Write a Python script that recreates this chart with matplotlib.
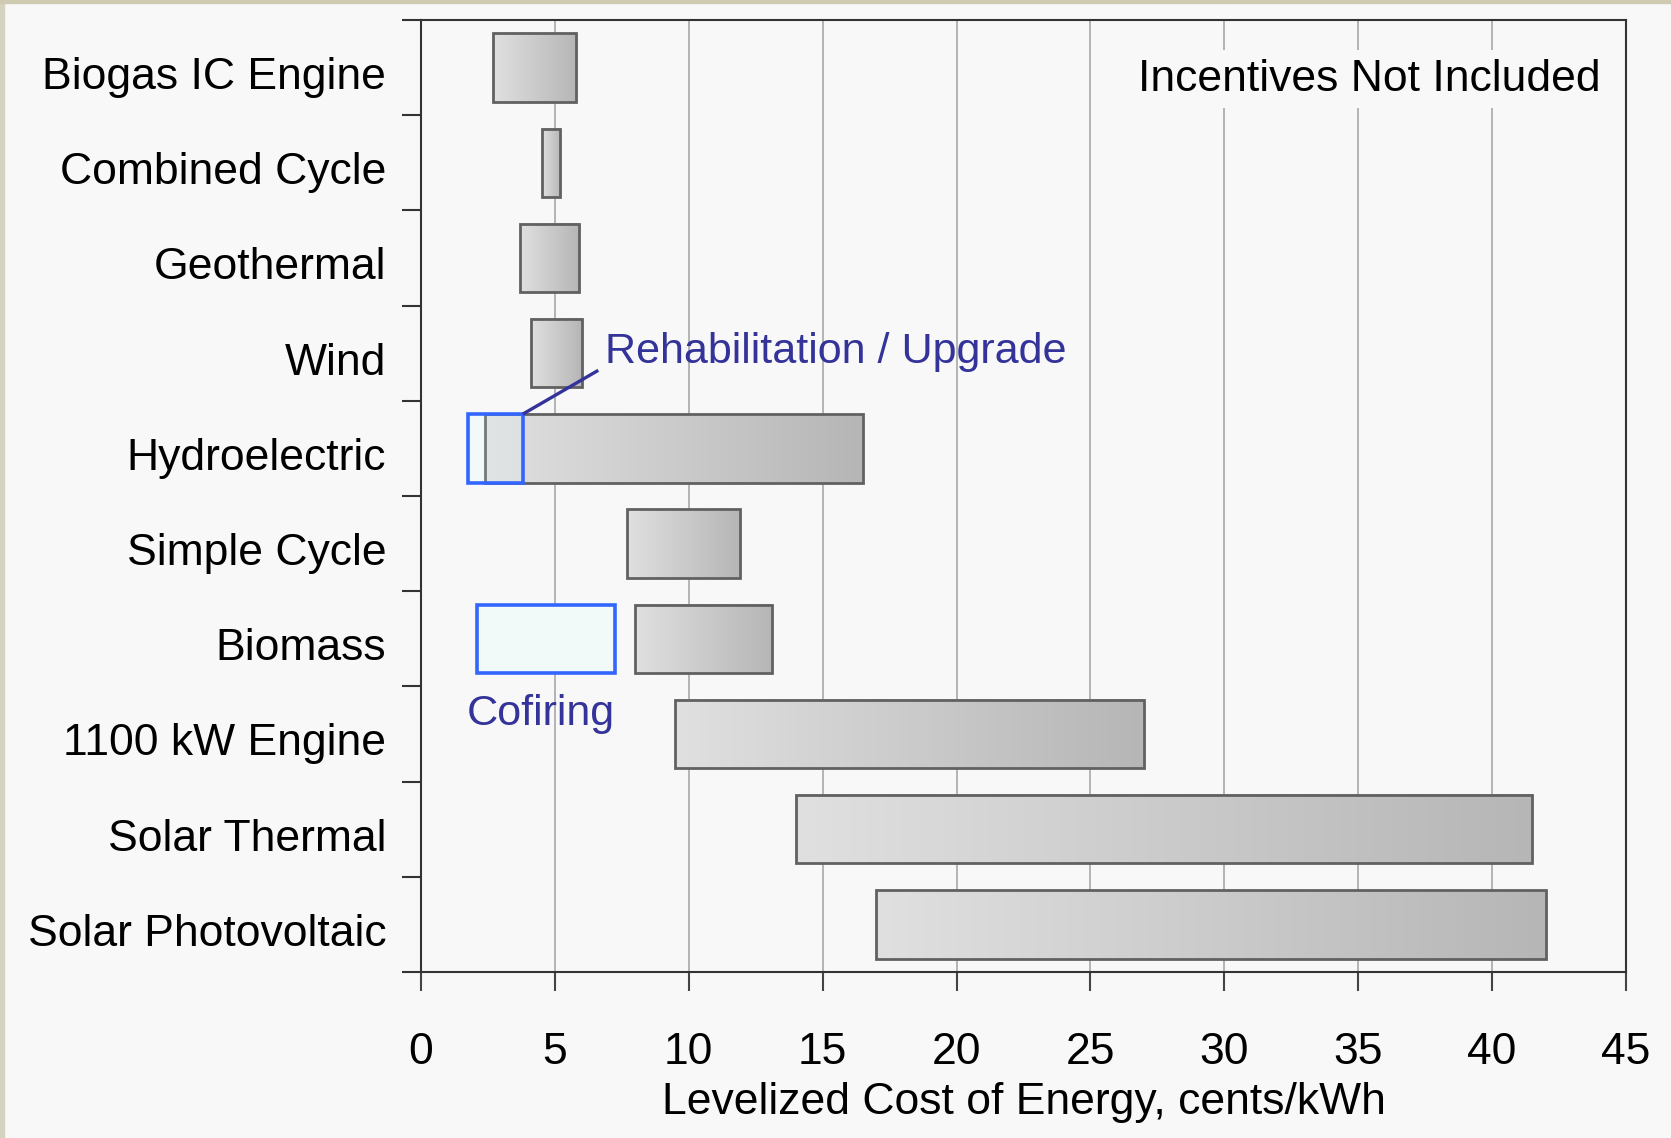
import numpy as np
import matplotlib
matplotlib.use("Agg")
import matplotlib.pyplot as plt
from matplotlib.colors import LinearSegmentedColormap
from matplotlib.patches import Rectangle
from matplotlib.transforms import ScaledTranslation

plt.rcParams['font.family'] = ['Liberation Sans', 'DejaVu Sans']

# levelized cost ranges, cents/kWh
techs = ["Biogas IC Engine", "Combined Cycle", "Geothermal", "Wind", "Hydroelectric",
         "Simple Cycle", "Biomass", "1100 kW Engine", "Solar Thermal", "Solar Photovoltaic"]
cost_low = [2.7, 4.5, 3.7, 4.1, 2.4, 7.7, 8.0, 9.5, 14.0, 17.0]
cost_high = [5.8, 5.2, 5.9, 6.0, 16.5, 11.9, 13.1, 27.0, 41.5, 42.0]

# highlighted sub-ranges (blue boxes)
special_techs = ["Hydroelectric", "Biomass"]
special_low = [1.75, 2.1]
special_high = [3.8, 7.25]
special_notes = ["Rehabilitation / Upgrade", "Cofiring"]

xticks = [0, 5, 10, 15, 20, 25, 30, 35, 40, 45]

BG = "#f8f8f8"
BLUE_TXT = "#333399"
BLUE_BOX = "#3366ff"
FS = 32

fig = plt.figure(figsize=(16.71, 11.38), dpi=100, facecolor=BG)
ax = fig.add_axes([421 / 1671, 1 - 972 / 1138, 1205 / 1671, 952 / 1138])
ax.set_facecolor(BG)

# tan slide border
fig.add_artist(Rectangle((0, 0), 4 / 1671, 1, transform=fig.transFigure,
                         color="#d5d3bf", zorder=-5))
fig.add_artist(Rectangle((0, 1 - 3 / 1138), 1, 3 / 1138, transform=fig.transFigure,
                         color="#cfcbb3", zorder=-5))

ypos = np.arange(len(techs))
h = 0.72
cmap = LinearSegmentedColormap.from_list("g", ["#e0e0e0", "#b6b6b6"])
grad = np.linspace(0, 1, 256).reshape(1, -1)

# blue boxes behind (light fill)
for t, lo, hi in zip(special_techs, special_low, special_high):
    y = techs.index(t)
    ax.barh(y, hi - lo, left=lo, height=h, color="#f3f9f9", edgecolor="none", zorder=2)

for y, lo, hi in zip(ypos, cost_low, cost_high):
    ax.imshow(grad, cmap=cmap, aspect="auto", extent=[lo, hi, y + h / 2, y - h / 2],
              zorder=3, interpolation="bilinear")
ax.barh(ypos, np.array(cost_high) - np.array(cost_low), left=cost_low, height=h,
        color="none", edgecolor="#616161", linewidth=2.0, zorder=4)

# blue box outlines on top, with a faint tint
for t, lo, hi in zip(special_techs, special_low, special_high):
    y = techs.index(t)
    ax.barh(y, hi - lo, left=lo, height=h, color=(0.9, 1.0, 1.0, 0.15),
            edgecolor=BLUE_BOX, linewidth=2.6, zorder=5)

# annotations
hy = techs.index("Hydroelectric")
ax.plot([special_high[0], 6.62], [hy - h / 2, 3.18], color=BLUE_TXT, lw=2.4, zorder=6,
        solid_capstyle="butt")
ax.text(6.86, 2.985, special_notes[0], color=BLUE_TXT, fontsize=FS * 0.97,
        ha="left", va="center", zorder=6)
ax.text(4.46, 6.785, special_notes[1], color=BLUE_TXT, fontsize=FS * 0.97,
        ha="center", va="center", zorder=6)

ax.text(0.979, 0.938, "Incentives Not Included", transform=ax.transAxes, fontsize=FS,
        ha="right", va="center", zorder=6,
        bbox=dict(facecolor=BG, edgecolor="none", pad=6))

ax.set_xlim(0, 45)
ax.set_ylim(len(techs) - 0.5, -0.5)
ax.set_xticks(xticks)
ax.set_xticklabels([str(v) for v in xticks], fontsize=FS)
ax.xaxis.grid(True, color="#a8a8a8", linewidth=1.2, zorder=0)
ax.set_axisbelow(True)

ax.set_yticks(np.arange(len(techs) + 1) - 0.5)
ax.set_yticklabels([])
ax.set_yticks(ypos, minor=True)
ax.set_yticklabels(techs, minor=True, fontsize=FS)
ax.tick_params(axis="y", which="major", direction="out", length=14, width=1.5,
               color="#333333")
ax.tick_params(axis="y", which="minor", length=0, pad=25)
ax.tick_params(axis="x", direction="out", length=14, width=1.5, color="#444444", pad=29)

# labels sit a little below the bar centres in the original
shift = ScaledTranslation(0, -0.055, fig.dpi_scale_trans)
for lab in ax.get_yticklabels(minor=True):
    lab.set_transform(lab.get_transform() + shift)

ax.set_xlabel("Levelized Cost of Energy, cents/kWh", fontsize=FS, labelpad=6.5)

for s in ax.spines.values():
    s.set_color("#333333")
    s.set_linewidth(1.5)

fig.savefig("out.png", dpi=100, facecolor=BG)
